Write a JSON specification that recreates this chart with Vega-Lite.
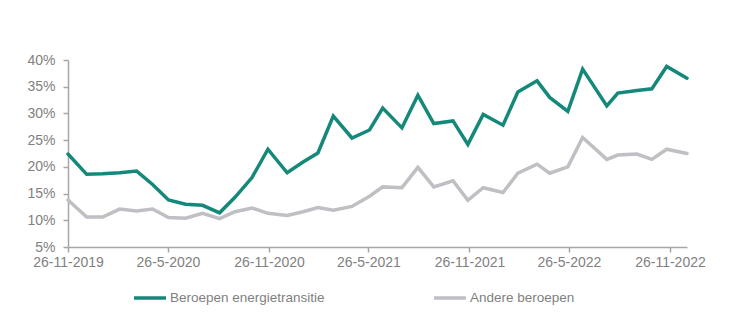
{
  "$schema": "https://vega.github.io/schema/vega-lite/v6.json",
  "width": 619,
  "height": 187,
  "autosize": {"type": "none"},
  "padding": {"left": 68, "top": 60, "right": 65, "bottom": 80},
  "background": "white",
  "config": {
    "view": {"stroke": null},
    "font": "Liberation Sans",
    "axis": {"grid": false, "domainColor": "#a6a6a6", "tickColor": "#a6a6a6", "labelColor": "#7f7f7f", "labelFont": "Liberation Sans", "labelFontSize": 14, "tickSize": 5, "domainWidth": 1.5, "tickWidth": 1.5}
  },
  "data": {"values": [
    {"date": "2019-11-26", "series": "Beroepen energietransitie", "value": 22.4},
    {"date": "2019-12-30", "series": "Beroepen energietransitie", "value": 18.6},
    {"date": "2020-01-28", "series": "Beroepen energietransitie", "value": 18.7},
    {"date": "2020-02-28", "series": "Beroepen energietransitie", "value": 18.9},
    {"date": "2020-03-30", "series": "Beroepen energietransitie", "value": 19.2},
    {"date": "2020-04-28", "series": "Beroepen energietransitie", "value": 16.7},
    {"date": "2020-05-27", "series": "Beroepen energietransitie", "value": 13.8},
    {"date": "2020-06-27", "series": "Beroepen energietransitie", "value": 13.0},
    {"date": "2020-07-28", "series": "Beroepen energietransitie", "value": 12.8},
    {"date": "2020-08-28", "series": "Beroepen energietransitie", "value": 11.4},
    {"date": "2020-09-25", "series": "Beroepen energietransitie", "value": 14.3},
    {"date": "2020-10-26", "series": "Beroepen energietransitie", "value": 18.0},
    {"date": "2020-11-24", "series": "Beroepen energietransitie", "value": 23.3},
    {"date": "2020-12-29", "series": "Beroepen energietransitie", "value": 18.9},
    {"date": "2021-01-27", "series": "Beroepen energietransitie", "value": 20.9},
    {"date": "2021-02-23", "series": "Beroepen energietransitie", "value": 22.6},
    {"date": "2021-03-23", "series": "Beroepen energietransitie", "value": 29.5},
    {"date": "2021-04-26", "series": "Beroepen energietransitie", "value": 25.4},
    {"date": "2021-05-28", "series": "Beroepen energietransitie", "value": 26.9},
    {"date": "2021-06-21", "series": "Beroepen energietransitie", "value": 31.0},
    {"date": "2021-07-26", "series": "Beroepen energietransitie", "value": 27.3},
    {"date": "2021-08-24", "series": "Beroepen energietransitie", "value": 33.4},
    {"date": "2021-09-22", "series": "Beroepen energietransitie", "value": 28.1},
    {"date": "2021-10-27", "series": "Beroepen energietransitie", "value": 28.6},
    {"date": "2021-11-23", "series": "Beroepen energietransitie", "value": 24.2},
    {"date": "2021-12-21", "series": "Beroepen energietransitie", "value": 29.8},
    {"date": "2022-01-26", "series": "Beroepen energietransitie", "value": 27.8},
    {"date": "2022-02-22", "series": "Beroepen energietransitie", "value": 34.0},
    {"date": "2022-03-29", "series": "Beroepen energietransitie", "value": 36.1},
    {"date": "2022-04-21", "series": "Beroepen energietransitie", "value": 33.0},
    {"date": "2022-05-24", "series": "Beroepen energietransitie", "value": 30.4},
    {"date": "2022-06-20", "series": "Beroepen energietransitie", "value": 38.3},
    {"date": "2022-08-03", "series": "Beroepen energietransitie", "value": 31.4},
    {"date": "2022-08-23", "series": "Beroepen energietransitie", "value": 33.8},
    {"date": "2022-09-27", "series": "Beroepen energietransitie", "value": 34.3},
    {"date": "2022-10-24", "series": "Beroepen energietransitie", "value": 34.6},
    {"date": "2022-11-20", "series": "Beroepen energietransitie", "value": 38.8},
    {"date": "2022-12-27", "series": "Beroepen energietransitie", "value": 36.6},
    {"date": "2019-11-26", "series": "Andere beroepen", "value": 13.8},
    {"date": "2019-12-30", "series": "Andere beroepen", "value": 10.6},
    {"date": "2020-01-28", "series": "Andere beroepen", "value": 10.6},
    {"date": "2020-02-28", "series": "Andere beroepen", "value": 12.1},
    {"date": "2020-03-30", "series": "Andere beroepen", "value": 11.75},
    {"date": "2020-04-28", "series": "Andere beroepen", "value": 12.1},
    {"date": "2020-05-27", "series": "Andere beroepen", "value": 10.5},
    {"date": "2020-06-27", "series": "Andere beroepen", "value": 10.4},
    {"date": "2020-07-28", "series": "Andere beroepen", "value": 11.3},
    {"date": "2020-08-28", "series": "Andere beroepen", "value": 10.3},
    {"date": "2020-09-25", "series": "Andere beroepen", "value": 11.6},
    {"date": "2020-10-26", "series": "Andere beroepen", "value": 12.3},
    {"date": "2020-11-24", "series": "Andere beroepen", "value": 11.3},
    {"date": "2020-12-29", "series": "Andere beroepen", "value": 10.9},
    {"date": "2021-01-27", "series": "Andere beroepen", "value": 11.6},
    {"date": "2021-02-23", "series": "Andere beroepen", "value": 12.4},
    {"date": "2021-03-23", "series": "Andere beroepen", "value": 11.9},
    {"date": "2021-04-26", "series": "Andere beroepen", "value": 12.6},
    {"date": "2021-05-28", "series": "Andere beroepen", "value": 14.5},
    {"date": "2021-06-21", "series": "Andere beroepen", "value": 16.25},
    {"date": "2021-07-26", "series": "Andere beroepen", "value": 16.1},
    {"date": "2021-08-24", "series": "Andere beroepen", "value": 19.9},
    {"date": "2021-09-22", "series": "Andere beroepen", "value": 16.25},
    {"date": "2021-10-27", "series": "Andere beroepen", "value": 17.4},
    {"date": "2021-11-23", "series": "Andere beroepen", "value": 13.75},
    {"date": "2021-12-21", "series": "Andere beroepen", "value": 16.1},
    {"date": "2022-01-26", "series": "Andere beroepen", "value": 15.2},
    {"date": "2022-02-22", "series": "Andere beroepen", "value": 18.8},
    {"date": "2022-03-29", "series": "Andere beroepen", "value": 20.5},
    {"date": "2022-04-21", "series": "Andere beroepen", "value": 18.8},
    {"date": "2022-05-24", "series": "Andere beroepen", "value": 20.0},
    {"date": "2022-06-20", "series": "Andere beroepen", "value": 25.5},
    {"date": "2022-08-03", "series": "Andere beroepen", "value": 21.4},
    {"date": "2022-08-23", "series": "Andere beroepen", "value": 22.2},
    {"date": "2022-09-27", "series": "Andere beroepen", "value": 22.4},
    {"date": "2022-10-24", "series": "Andere beroepen", "value": 21.4},
    {"date": "2022-11-20", "series": "Andere beroepen", "value": 23.3},
    {"date": "2022-12-27", "series": "Andere beroepen", "value": 22.5}
  ]},
  "mark": {"type": "line", "strokeWidth": 3.5, "strokeJoin": "miter", "strokeCap": "round"},
  "encoding": {
    "x": {
      "field": "date", "type": "temporal",
      "scale": {"type": "utc", "nice": false, "domain": [{"year": 2019, "month": 11, "date": 26, "utc": true}, {"year": 2022, "month": 12, "date": 27, "utc": true}]},
      "axis": {
        "title": null,
        "values": [
          {"year": 2019, "month": 11, "date": 26, "utc": true},
          {"year": 2020, "month": 5, "date": 26, "utc": true},
          {"year": 2020, "month": 11, "date": 26, "utc": true},
          {"year": 2021, "month": 5, "date": 26, "utc": true},
          {"year": 2021, "month": 11, "date": 26, "utc": true},
          {"year": 2022, "month": 5, "date": 26, "utc": true},
          {"year": 2022, "month": 11, "date": 26, "utc": true}
        ],
        "labelExpr": "utcFormat(datum.value, '%-d-%-m-%Y')",
        "labelPadding": 3, "labelOverlap": false, "labelFlush": false
      }
    },
    "y": {
      "field": "value", "type": "quantitative",
      "scale": {"domain": [5, 40], "nice": false, "zero": false},
      "axis": {"title": null, "values": [5, 10, 15, 20, 25, 30, 35, 40], "labelExpr": "datum.value + '%'", "labelPadding": 8}
    },
    "color": {
      "field": "series", "type": "nominal",
      "scale": {"domain": ["Beroepen energietransitie", "Andere beroepen"], "range": ["#14897a", "#bfbfc4"]},
      "legend": {
        "title": null, "orient": "none", "legendX": 64, "legendY": 220, "direction": "horizontal",
        "symbolType": "stroke", "symbolSize": 1024, "symbolStrokeWidth": 3.5,
        "labelFont": "Liberation Sans", "labelFontSize": 13.5, "labelColor": "#7f7f7f",
        "labelOffset": 2, "columnPadding": 102, "labelLimit": 400
      }
    }
  }
}
